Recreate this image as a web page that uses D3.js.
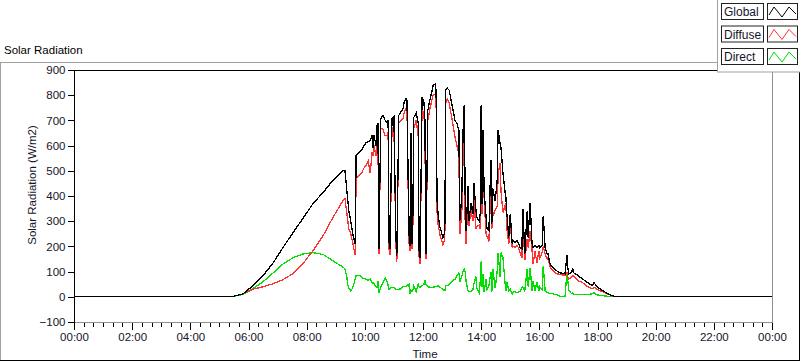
<!DOCTYPE html>
<html>
<head>
<meta charset="utf-8">
<script src="https://cdn.jsdelivr.net/npm/d3@7"></script>
<style>
  body { margin: 0; background: #fff; }
  svg { display: block; font-family: "Liberation Sans", Arial, sans-serif; }
</style>
</head>
<body>
<svg id="chart" width="800" height="361"></svg>
<script>
// minutes after midnight
var times = [0,325,349,369,390,411,431,452,472,493,
  514,534,555,559,563,565,567,571,575,580,
  582,586,590,594,598,602,607,611,615,617,
  619,623,625,627,629,633,637,642,646,648,
  650,652,656,660,664,666,670,675,679,681,
  685,687,691,693,695,697,699,701,706,710,
  712,714,718,722,724,726,730,734,739,741,
  745,747,749,751,755,759,761,765,767,770,
  774,778,782,786,790,794,796,800,803,805,
  807,809,813,815,819,823,825,829,831,836,
  838,840,842,844,846,850,852,856,860,862,
  864,869,873,875,879,881,885,889,891,893,
  897,900,904,906,910,914,918,920,924,926,
  930,935,937,941,945,947,951,955,959,961,
  966,968,972,976,978,982,988,996,1003,1013,
  1017,1019,1021,1027,1029,1031,1040,1048,1060,1069,
  1073,1079,1085,1091,1102,1116,1440];

var globalRad = [0,0,12,44,84,135,195,255,310,370,
  414,462,501,500,420,380,340,300,250,211,
  560,570,575,585,600,610,615,620,640,590,
  640,600,680,690,191,708,720,700,690,700,
  215,191,708,715,243,163,720,735,748,772,
  788,780,255,200,650,211,300,712,730,690,
  183,155,792,770,700,171,740,780,820,840,
  844,820,382,330,275,250,235,255,820,828,
  820,780,740,700,688,660,302,400,680,760,
  400,263,440,302,370,330,450,350,315,300,
  330,760,370,660,420,320,270,263,541,290,
  430,380,460,660,609,590,490,420,394,330,
  235,330,211,223,215,223,210,195,190,350,
  170,342,235,374,211,195,205,195,205,195,
  205,322,195,170,170,131,115,103,95,91,
  167,110,90,100,111,95,84,72,56,44,
  56,40,32,24,12,0,0];

var diffuseRad = [0,0,12,30,40,52,68,92,131,183,
  243,314,382,390,330,300,270,250,215,165,
  470,478,485,494,510,521,540,490,573,560,
  600,560,641,640,170,669,665,640,640,655,
  190,165,665,675,215,140,690,700,708,730,
  748,740,220,180,610,190,270,670,700,640,
  160,130,750,720,640,150,700,745,785,800,
  805,780,340,290,245,220,205,230,770,785,
  770,725,680,635,600,565,250,330,580,650,
  300,210,410,280,345,300,400,270,280,285,
  270,620,330,570,400,250,240,220,440,270,
  320,345,360,485,530,415,335,360,370,270,
  210,300,195,200,195,205,190,175,155,310,
  145,230,195,260,185,130,180,135,180,155,
  177,200,170,150,155,118,103,92,88,86,
  95,76,70,80,85,80,64,58,40,32,
  38,30,24,20,10,0,0];

var directRad = [0,0,10,32,60,95,130,155,170,175,
  168,143,118,110,76,45,35,24,35,70,
  84,86,84,75,72,70,65,70,55,55,
  52,40,36,64,15,40,55,75,60,45,
  30,35,36,36,30,30,30,32,40,40,
  40,45,50,10,25,20,25,44,20,50,
  40,35,44,50,64,50,40,38,36,38,
  40,40,42,44,38,32,28,24,44,44,
  50,56,64,70,84,95,60,80,103,110,
  100,60,24,20,20,30,50,80,36,15,
  60,140,40,90,20,70,30,45,100,20,
  110,35,100,175,80,175,155,60,24,60,
  24,30,12,20,20,16,20,20,36,40,
  24,111,40,115,24,64,24,60,24,40,
  28,123,24,16,16,12,12,8,2,2,
  100,60,24,12,16,10,10,8,8,12,
  16,8,6,4,2,0,0];

var seriesNames = ["Global", "Diffuse", "Direct"];
var seriesColors = ["#000000", "#ff3030", "#00e000"];
var yTicks = [-100,0,100,200,300,400,500,600,700,800,900];
var xTickLabels = ["00:00","02:00","04:00","06:00","08:00","10:00","12:00","14:00","16:00","18:00","20:00","22:00","00:00"];

var svg = d3.select("#chart");
var plotL = 74, plotR = 772, plotT = 70, plotB = 322;
var labelColor = "#141428";

var x = d3.scaleLinear().domain([0, 1440]).range([plotL, plotR]);
var y = d3.scaleLinear().domain([-100, 900]).range([plotB, plotT]);

// outer panel frame
svg.append("line").attr("x1", 0).attr("x2", 718).attr("y1", 62.5).attr("y2", 62.5).attr("stroke", "#a0a0a0");
svg.append("line").attr("x1", 0.5).attr("x2", 0.5).attr("y1", 62).attr("y2", 361).attr("stroke", "#a0a0a0");
svg.append("line").attr("x1", 0).attr("x2", 800).attr("y1", 360.5).attr("y2", 360.5).attr("stroke", "#000");
svg.append("line").attr("x1", 799.5).attr("x2", 799.5).attr("y1", 62).attr("y2", 361).attr("stroke", "#000");

svg.append("text").attr("x", 4).attr("y", 54).attr("font-size", "11.5px").attr("fill", "#000").text("Solar Radiation");

// plot area border: grey right/bottom
svg.append("line").attr("x1", plotR + 0.5).attr("x2", plotR + 0.5).attr("y1", plotT).attr("y2", plotB + 1).attr("stroke", "#909090");
svg.append("line").attr("x1", plotL).attr("x2", plotR + 1).attr("y1", plotB + 0.5).attr("y2", plotB + 0.5).attr("stroke", "#909090");

// y axis
var yAxis = svg.append("g")
  .attr("transform", "translate(" + (plotL + 0.5) + ",0)")
  .call(d3.axisLeft(y).tickValues(yTicks).tickSize(7).tickPadding(2));
yAxis.select(".domain").remove();
yAxis.selectAll(".tick line").attr("stroke", "#000").attr("shape-rendering", "crispEdges");
yAxis.selectAll("text").attr("font-size", "11.5px").attr("fill", labelColor).attr("font-family", "Liberation Sans, Arial, sans-serif");

// x axis, minor ticks every 20 min, labelled every 2 h
var xMinor = svg.append("g")
  .attr("transform", "translate(0," + (plotB + 1) + ")")
  .call(d3.axisBottom(x).tickValues(d3.range(0, 1441, 20)).tickSize(4).tickFormat(""));
xMinor.select(".domain").remove();
xMinor.selectAll(".tick line").attr("stroke", "#000").attr("shape-rendering", "crispEdges");

var xAxis = svg.append("g")
  .attr("transform", "translate(0," + (plotB + 1) + ")")
  .call(d3.axisBottom(x).tickValues(d3.range(0, 1441, 120)).tickSize(7).tickPadding(3)
    .tickFormat(function(d, i) { return xTickLabels[i]; }));
xAxis.select(".domain").remove();
xAxis.selectAll(".tick line").attr("stroke", "#000").attr("shape-rendering", "crispEdges");
xAxis.selectAll("text").attr("font-size", "11.5px").attr("fill", labelColor).attr("font-family", "Liberation Sans, Arial, sans-serif");

svg.append("text").attr("x", (plotL + plotR) / 2 + 2).attr("y", 358).attr("text-anchor", "middle")
  .attr("font-size", "11.5px").attr("fill", labelColor).text("Time");

svg.append("text")
  .attr("transform", "translate(36,185) rotate(-90)")
  .attr("text-anchor", "middle").attr("font-size", "11.5px").attr("fill", labelColor)
  .text("Solar Radiation (W/m2)");

// data lines
var seriesData = [globalRad, diffuseRad, directRad];
var line = d3.line()
  .x(function(d, i) { return x(times[i]); })
  .y(function(d) { return y(d); });

// draw direct first, global last (on top)
[2, 1, 0].forEach(function(k) {
  svg.append("path")
    .datum(seriesData[k])
    .attr("d", line)
    .attr("fill", "none")
    .attr("stroke", seriesColors[k])
    .attr("stroke-width", 1.3)
    .attr("stroke-linejoin", "miter")
    .attr("shape-rendering", "crispEdges");
});

// plot border black left/top, drawn over data
svg.append("line").attr("x1", plotL + 0.5).attr("x2", plotL + 0.5).attr("y1", plotT).attr("y2", plotB + 1).attr("stroke", "#000");
svg.append("line").attr("x1", plotL).attr("x2", plotR + 1).attr("y1", plotT + 0.5).attr("y2", plotT + 0.5).attr("stroke", "#000");

// legend
var lg = svg.append("g");
lg.append("rect").attr("x", 717.5).attr("y", -1).attr("width", 84).attr("height", 73).attr("fill", "#fff").attr("stroke", "#a0a0a0");
var items = lg.selectAll(".item").data(seriesNames).enter().append("g")
  .attr("class", "item")
  .attr("transform", function(d, i) { return "translate(0," + (i * 22.5) + ")"; });
items.append("rect").attr("x", 721.5).attr("y", 3.5).attr("width", 42).attr("height", 16)
  .attr("fill", "#fff").attr("stroke", "#222");
items.append("text").attr("x", 724).attr("y", 16).attr("font-size", "12px").attr("fill", labelColor)
  .text(function(d) { return d; });
items.append("rect").attr("x", 767.5).attr("y", 3.5).attr("width", 30).attr("height", 16)
  .attr("fill", "#fff").attr("stroke", "#222");
items.append("path")
  .attr("d", "M769,15 L774,7 L782,17 L789,7 L796,14")
  .attr("fill", "none")
  .attr("stroke", function(d, i) { return seriesColors[i]; });
</script>
</body>
</html>
